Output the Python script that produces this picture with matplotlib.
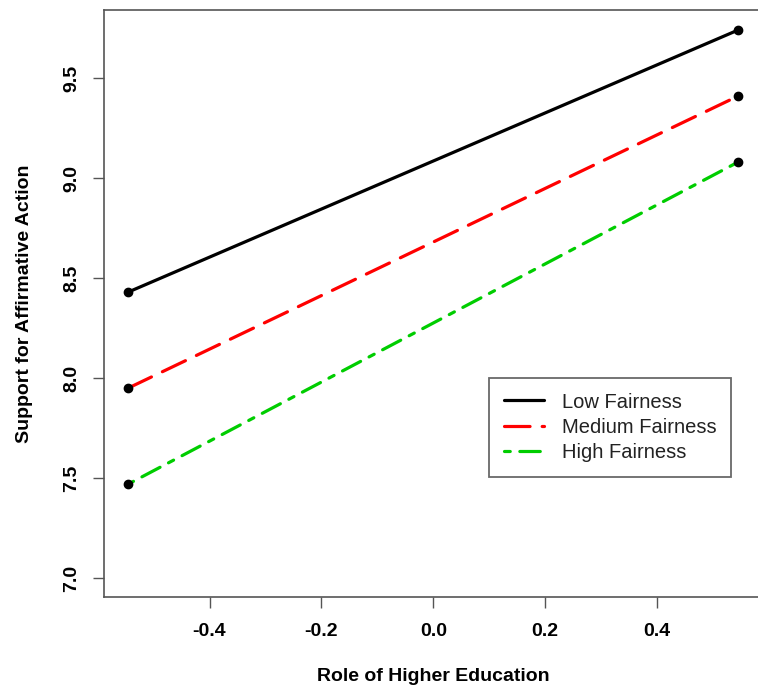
import matplotlib
matplotlib.use("Agg")
import matplotlib.pyplot as plt

plt.rcParams['font.family'] = ['Liberation Sans', 'DejaVu Sans']

# role of higher education (x) at low / high
role = [-0.545, 0.545]

series_names = ['Low Fairness', 'Medium Fairness', 'High Fairness']
low_fair = [8.43, 9.74]
med_fair = [7.95, 9.41]
high_fair = [7.47, 9.08]

xticks = [-0.4, -0.2, 0.0, 0.2, 0.4]
yticks = [7.0, 7.5, 8.0, 8.5, 9.0, 9.5]

colors = ['black', '#ff0000', '#00cd00']
styles = ['-', (0, (8, 3.8)), (0, (1.8, 3, 6.4, 3))]

fig = plt.figure(figsize=(7.58, 6.95), dpi=100)
ax = fig.add_axes([104 / 758, 98 / 695, 658.6 / 758, 587 / 695])

for vals, name, col, ls in zip([low_fair, med_fair, high_fair], series_names, colors, styles):
    ax.plot(role, vals, color=col, linestyle=ls, lw=2.3, label=name,
            dash_capstyle='round', solid_capstyle='round')
    ax.plot(role, vals, 'o', color='black', ms=6, zorder=5)

ax.set_xlim(-0.5886, 0.5886)
ax.set_ylim(6.905, 9.84)
ax.set_xticks(xticks)
ax.set_xticklabels(['-0.4', '-0.2', '0.0', '0.2', '0.4'])
ax.set_yticks(yticks)
ax.set_yticklabels(['7.0', '7.5', '8.0', '8.5', '9.0', '9.5'], rotation=90, va='center')

for lab in ax.get_xticklabels() + ax.get_yticklabels():
    lab.set_fontweight('bold')
    lab.set_fontsize(14)

ax.tick_params(axis='both', direction='out', length=8, width=1, color='#555555')
ax.tick_params(axis='x', pad=11)
ax.tick_params(axis='y', pad=9)

for sp in ax.spines.values():
    sp.set_color('#555555')
    sp.set_linewidth(1.2)

ax.set_xlabel('Role of Higher Education', fontsize=14, fontweight='bold', labelpad=20)
ax.set_ylabel('Support for Affirmative Action', fontsize=14, fontweight='bold', labelpad=22)

leg = ax.legend(loc='upper left', bbox_to_anchor=(489 / 758, 1 - 378 / 695),
                bbox_transform=fig.transFigure, borderaxespad=0, fontsize=14.5,
                fancybox=False, frameon=True, handlelength=2.0, handletextpad=0.9,
                labelspacing=0.32, borderpad=0.72)
leg.get_frame().set_edgecolor('#444444')
leg.get_frame().set_linewidth(1.3)
for txt in leg.get_texts():
    txt.set_color('#222222')

fig.savefig('out.png', dpi=100)
